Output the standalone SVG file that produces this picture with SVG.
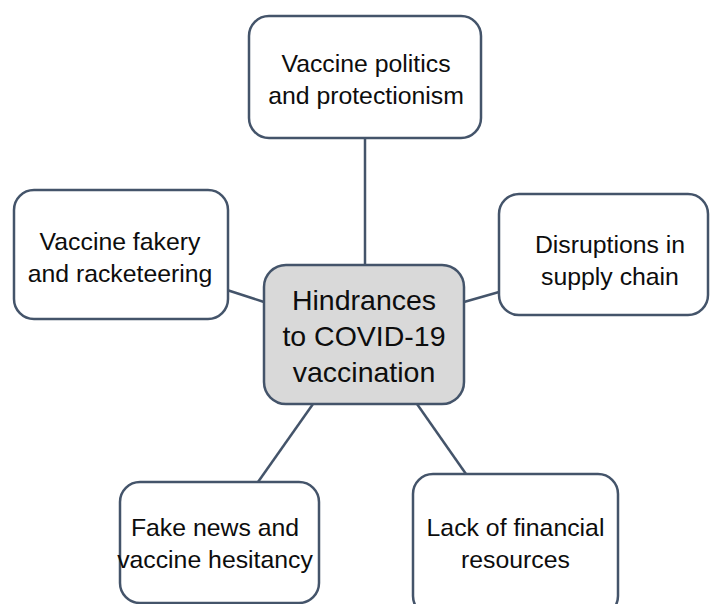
<svg xmlns="http://www.w3.org/2000/svg" width="710" height="604" viewBox="0 0 710 604">
  <style>
    .box { fill: #ffffff; stroke: #44546a; stroke-width: 2.5; }
    .hub { fill: #d9d9d9; stroke: #44546a; stroke-width: 2.5; }
    .lbl { font-family: "Liberation Sans", Arial, sans-serif; font-size: 24.8px; fill: #0d0d0d; text-anchor: middle; }
    .hubl { font-family: "Liberation Sans", Arial, sans-serif; font-size: 28.5px; fill: #0d0d0d; text-anchor: middle; }
    .conn line { stroke: #44546a; stroke-width: 2.5; }
  </style>
  <rect width="710" height="604" fill="#ffffff"/>
  <g id="connectors" class="conn">
    <line x1="365" y1="138" x2="365" y2="265"/>
    <line x1="227" y1="290" x2="264" y2="302"/>
    <line x1="464" y1="302" x2="499" y2="292"/>
    <line x1="313" y1="404" x2="258" y2="482"/>
    <line x1="417" y1="404" x2="466" y2="474"/>
  </g>
  <g id="top">
    <rect class="box" x="249" y="16" width="232" height="122" rx="20"/>
    <text class="lbl" x="366" y="72">Vaccine politics</text>
    <text class="lbl" x="366" y="103.5">and protectionism</text>
  </g>
  <g id="left">
    <rect class="box" x="14" y="190" width="214" height="129" rx="20"/>
    <text class="lbl" x="120" y="250">Vaccine fakery</text>
    <text class="lbl" x="120" y="281.5">and racketeering</text>
  </g>
  <g id="right">
    <rect class="box" x="499" y="194" width="209" height="121" rx="20"/>
    <text class="lbl" x="610" y="253">Disruptions in</text>
    <text class="lbl" x="610" y="284.5">supply chain</text>
  </g>
  <g id="bottomleft">
    <rect class="box" x="120" y="482" width="199" height="121" rx="20"/>
    <text class="lbl" x="215" y="536">Fake news and</text>
    <text class="lbl" x="215" y="567.5">vaccine hesitancy</text>
  </g>
  <g id="bottomright">
    <rect class="box" x="413" y="474" width="205" height="142" rx="20"/>
    <text class="lbl" x="515.5" y="536">Lack of financial</text>
    <text class="lbl" x="515.5" y="567.5">resources</text>
  </g>
  <g id="center">
    <rect class="hub" x="264" y="265" width="200" height="139" rx="22"/>
    <text class="hubl" x="364" y="310">Hindrances</text>
    <text class="hubl" x="364" y="346">to COVID-19</text>
    <text class="hubl" x="364" y="382">vaccination</text>
  </g>
</svg>
